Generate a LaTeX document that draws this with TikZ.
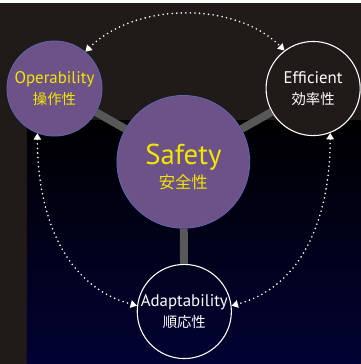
\documentclass[tikz,border=0pt]{standalone}
\usepackage{fontspec}
\setmainfont{PT Sans}
\newfontfamily\jpfont{Noto Sans CJK JP}
\usetikzlibrary{arrows.meta,positioning}
\definecolor{bgbrown}{RGB}{32,26,24}
\definecolor{deepnavy}{RGB}{2,2,52}
\definecolor{coreviolet}{RGB}{108,82,134}
\definecolor{ringblue}{RGB}{92,104,178}
\definecolor{labelyellow}{RGB}{242,230,0}
\definecolor{linkgray}{RGB}{88,88,88}
\newcommand{\en}[1]{{\fontsize{17}{21}\selectfont #1}}
\newcommand{\jp}[1]{{\jpfont\fontsize{14.5}{21}\selectfont #1}}

\begin{document}
\begin{tikzpicture}[x=1pt,y=1pt,
    core/.style={circle, draw=ringblue, line width=0.8pt, fill=coreviolet,
                 text=labelyellow, align=center, inner sep=0pt},
    aspect/.style={circle, draw=white, line width=1.1pt, text=white,
                   align=center, inner sep=0pt, minimum size=95pt},
    link/.style={draw=linkgray, line width=8pt},
    loop/.style={white, line width=1.8pt, line cap=round,
                 dash pattern=on 0pt off 4.6pt, <->},
    >={Triangle[width=7.5pt,length=6.5pt]},
    font=\fontsize{17}{21}\selectfont]
    \fill[bgbrown] (0,0) rectangle (364,364);
    \shade[top color=black, bottom color=deepnavy] (27,0) rectangle (364,246);

    \node[core, minimum size=96pt] (oper) at (55,278)
        {\en{Operability}\\\jp{操作性}};
    \node[aspect, fill=bgbrown] (effic) at (316,278)
        {\en{Efficient}\\\jp{効率性}};
    \node[core, minimum size=134pt, font=\fontsize{29}{24}\selectfont] (safety) at (185,204)
        {\rule{0pt}{31pt}Safety\\{\jpfont\fontsize{16.5}{24}\selectfont 安全性}};
    \node[aspect] (adapt) at (186,53)
        {\en{Adaptability}\\\jp{順応性}};

    \draw[link] (safety) -- (oper);
    \draw[link] (safety) -- (effic);
    \draw[link] (safety) -- (adapt);

    \draw[loop] (oper.50) to[out=45,in=135,looseness=0.9] (effic.127);
    \draw[loop] (oper.249) to[out=270,in=165] (adapt.173);
    \draw[loop] (effic.291) to[out=270,in=15] (adapt.7);
\end{tikzpicture}
\end{document}
